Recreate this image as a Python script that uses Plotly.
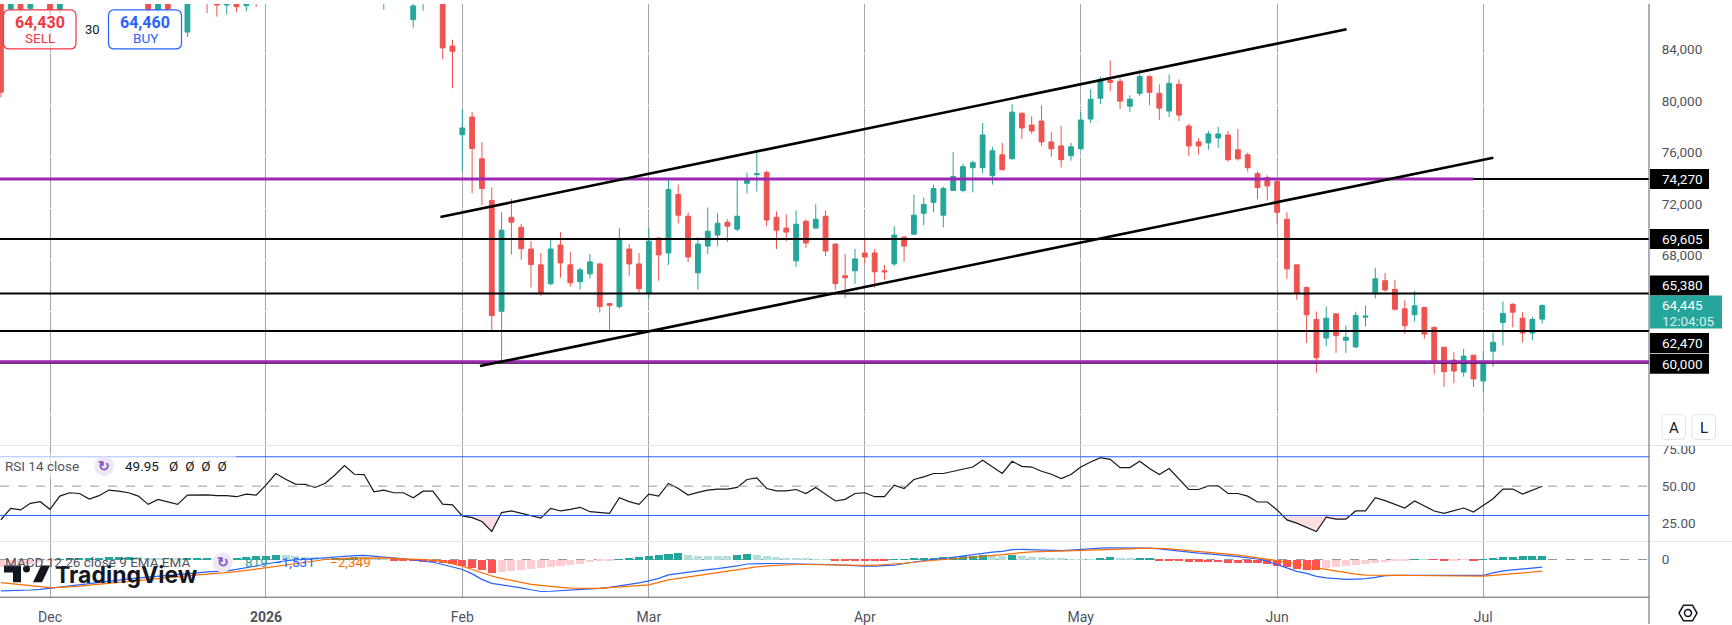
import math
import plotly.graph_objects as go
from plotly.subplots import make_subplots

W, H = 1732, 625
FIRST_BAR = -5          # bar index of left-most candle (bar 0 = 1 Dec 2025, trading days only)

# ---------------- price data (one value per trading day) ----------------
opens = [
    89000, 87450, 90200, 87500, 89800, 91500, 87400, 89500, 91200, 92400,
    91800, 93500, 92000, 90500, 92200, 90000, 87400, 88800, 88000, 85660,
    88300, 89000, 88800, 87760, 88400, 87710, 88300, 88000, 90000, 93000,
    92200, 91500, 91400, 91000, 92300, 95000, 97500, 95800, 95400, 90500,
    91200, 90700, 86630, 88000, 89500, 89000, 84580, 77700, 79070, 75830,
    72600, 64000, 71290, 70520, 68830, 67600, 66140, 69140, 67600, 66290,
    66900, 67670, 64600, 64360, 68830, 67670, 65370, 69680, 68520, 73060,
    71370, 66980, 69060, 69910, 70910, 70370, 73930, 74600, 74760, 71290,
    70450, 67910, 70980, 70450, 71370, 69210, 66750, 67140, 68520, 68520,
    67140, 67670, 69750, 69980, 71600, 72450, 71450, 73370, 73370, 75140,
    75140, 74520, 76140, 75830, 79370, 78450, 78760, 77140, 76830, 76060,
    76600, 78910, 80530, 81910, 81840, 79910, 80910, 82220, 80910, 79530,
    81610, 78370, 77140, 77060, 77450, 77680, 76530, 76140, 74680, 74370,
    74060, 71140, 67600, 65850, 63360, 61920, 63800, 61750, 61230, 63540,
    65440, 66370, 65700, 64190, 63730, 64290, 62750, 61210, 60210, 59280,
    60590, 58590, 60900, 63130, 64540, 63460, 62310, 63390]
highs = [
    89500, 90500, 90800, 90200, 92000, 92000, 90000, 91800, 93000, 93200,
    94000, 94200, 92500, 92600, 92500, 90500, 89200, 89300, 89200, 89000,
    89500, 89400, 89100, 88900, 88700, 88600, 88700, 90500, 93500, 93800,
    92800, 92200, 92000, 92800, 95500, 97800, 97900, 96500, 95800, 91800,
    91600, 91300, 88500, 90000, 90200, 89200, 85070, 79680, 79450, 77140,
    73600, 71680, 72730, 70780, 69440, 68520, 69540, 70140, 68600, 67370,
    68440, 67750, 64600, 70450, 69210, 68520, 70450, 69750, 74220, 73830,
    71680, 69750, 72060, 71600, 71140, 74220, 74760, 76300, 74910, 71750,
    71520, 71830, 71140, 72290, 71830, 69290, 68440, 68830, 69520, 68830,
    67600, 70600, 69850, 73060, 72830, 73830, 73680, 76370, 75450, 75680,
    78600, 76760, 77060, 80070, 79400, 79140, 79990, 77910, 78370, 77060,
    79450, 81220, 82220, 83450, 82070, 80760, 82760, 82300, 81610, 82380,
    81990, 78530, 77450, 77990, 78300, 77990, 78140, 76300, 74830, 74550,
    74290, 71680, 67620, 65900, 63980, 64360, 63830, 62900, 63960, 64440,
    67370, 66960, 66440, 64850, 65570, 64340, 62800, 61240, 60820, 61080,
    60620, 60900, 62360, 64750, 64620, 63930, 63590, 64540]
lows = [
    80600, 87300, 87200, 87300, 89000, 87000, 87100, 89000, 90500, 91000,
    91200, 91500, 90000, 90100, 89500, 87200, 87200, 87250, 87900, 85280,
    88000, 87120, 86860, 87020, 87200, 87280, 87630, 87900, 89800, 91800,
    91000, 90800, 90500, 90600, 92000, 94600, 95300, 95000, 90300, 87400,
    89800, 89600, 85990, 87320, 88300, 83550, 81300, 74830, 73160, 72240,
    62540, 60130, 68390, 68000, 65850, 65190, 66000, 66600, 65900, 65670,
    66540, 63900, 62540, 64210, 66750, 65440, 64980, 66370, 67600, 70830,
    67830, 65670, 68440, 69060, 69370, 70210, 73140, 73290, 70600, 68830,
    69440, 67440, 68910, 70370, 68290, 65670, 65060, 66140, 67750, 65830,
    66440, 67520, 67830, 69950, 70680, 71680, 70520, 73330, 73220, 73220,
    74680, 73830, 74910, 75780, 77370, 77760, 76830, 75990, 75140, 75680,
    76560, 78600, 80070, 81070, 79680, 79450, 80680, 79990, 78840, 79070,
    78760, 76060, 76140, 76530, 76680, 75600, 75680, 74830, 72680, 72600,
    70750, 66520, 64900, 61540, 59230, 61290, 60770, 60770, 61150, 62830,
    65000, 65520, 64030, 62260, 63210, 61880, 59150, 58130, 58410, 58920,
    58130, 57770, 59690, 61360, 62750, 61590, 61750, 63060]
closes = [
    81000, 90000, 87450, 89800, 91500, 87400, 89500, 91200, 92400, 91800,
    93500, 92000, 90500, 92200, 90000, 87400, 88800, 87450, 88500, 88300,
    89000, 88200, 87760, 88400, 87630, 88300, 88000, 90000, 93000, 92200,
    91500, 91400, 91000, 92300, 95000, 97500, 95800, 95700, 90800, 91200,
    90700, 90600, 87690, 89500, 89600, 84430, 84170, 78220, 76630, 73520,
    63670, 70290, 70910, 68850, 67620, 65440, 68830, 67750, 66210, 67210,
    67830, 64360, 64460, 69600, 67670, 65750, 69440, 68370, 73450, 71450,
    68210, 69210, 70210, 70830, 70600, 71370, 74240, 74680, 71080, 70290,
    70140, 70750, 69290, 71140, 68670, 66140, 66600, 68060, 68210, 67060,
    67060, 69910, 69060, 71450, 72290, 73520, 73520, 74450, 75220, 75530,
    77680, 76450, 74990, 79450, 78220, 77990, 77140, 76600, 75760, 76760,
    78840, 80450, 81990, 81760, 80300, 80450, 82220, 80990, 79760, 81680,
    79220, 76830, 76830, 77760, 77760, 75760, 75830, 75140, 73600, 73720,
    71680, 67290, 65390, 63730, 60390, 63460, 62110, 61980, 63670, 63620,
    66520, 65650, 64160, 62880, 64420, 62230, 60080, 59310, 59360, 60520,
    58750, 59880, 61590, 63830, 63930, 62310, 63360, 64445]

# ---------------- indicator data ----------------
rsi_vals = [
    27, 34.9, 33.8, 38.3, 39.4, 34.2, 43.2, 45.5, 45, 41.2,
    43.5, 47.3, 46.6, 45.5, 43.2, 37.6, 41, 39.2, 37.6, 43.9,
    44.1, 44, 43.5, 43.5, 42.8, 44.6, 43.9, 50.7, 58.6, 54.7,
    51.4, 51.2, 49.1, 51.8, 57.4, 64, 58.1, 57.9, 46.2, 47.3,
    45.5, 45.5, 42.1, 46.6, 46.6, 37.8, 37.2, 29.7, 28.6, 25.9,
    19.1, 32, 33.1, 31.5, 30, 28.2, 34.9, 33.1, 34.2, 35.6,
    32.6, 31.8, 31.5, 42.1, 39.5, 37.6, 44.6, 43.2, 51.8, 48.4,
    43.9, 45.7, 47.3, 48, 48, 49.1, 54.5, 55.6, 48.4, 46.8,
    46.8, 47.7, 45, 49.1, 44.4, 39.9, 41, 45, 45.5, 42.8,
    42.8, 50.7, 48.4, 54.5, 56.3, 58.6, 58.6, 60.1, 62, 63,
    67.6, 63, 58.6, 66.9, 63.5, 63, 60.1, 58.1, 55.2, 57.9,
    63, 66.4, 69.4, 68.2, 62.6, 62.6, 66.9, 62, 57.9, 62,
    54.5, 47.7, 47.7, 50.2, 50.2, 45, 45, 43.2, 39.2, 39.2,
    33.8, 27, 24.8, 22.1, 19.1, 28.8, 27.5, 27.5, 33.1, 33.1,
    42.1, 40.1, 37.6, 35.1, 39.9, 36.7, 33.1, 31.5, 33.1, 35.1,
    32.4, 37, 41.4, 48, 48, 44.6, 47.3, 49.95]
macd_vals = [
    -6330, -6300, -6250, -6150, -6000, -5800, -5600, -5350, -5100, -4850,
    -4600, -4350, -4100, -3900, -3700, -3550, -3400, -3250, -3100, -2900,
    -2700, -2500, -2400, -2300, -2000, -1700, -1300, -900, -500, -250,
    -100, 50, 200, 330, 500, 700, 800, 820, 700, 530,
    350, 150, -100, -350, -550, -1000, -1500, -2000, -2900, -4000,
    -4800, -5100, -5330, -5700, -6100, -6450, -6400, -6300, -6150, -6050,
    -5950, -5800, -5600, -5350, -5050, -4700, -4300, -3800, -3100, -2800,
    -2500, -2250, -2050, -1850, -1650, -1300, -900, -800, -800, -800,
    -800, -850, -900, -950, -1000, -1100, -1200, -1300, -1330, -1330,
    -1300, -1150, -800, -500, -200, 50, 200, 450, 700, 1000,
    1330, 1500, 1650, 2000, 2050, 2000, 1900, 1850, 1800, 1900,
    2050, 2250, 2300, 2330, 2330, 2300, 2300, 2300, 2150, 1900,
    1700, 1500, 1300, 1150, 1050, 800, 600, 350, 100, -350,
    -1000, -1800, -2400, -2800, -3400, -3700, -3900, -4000, -3950, -3870,
    -3600, -3250, -3200, -3200, -3200, -3200, -3250, -3300, -3330, -3330,
    -3300, -3200, -2700, -2300, -2100, -1870, -1700, -1531]
signal_vals = [
    -4670, -4900, -5100, -5300, -5500, -5670, -5600, -5500, -5350, -5150,
    -4950, -4750, -4550, -4350, -4150, -3950, -3750, -3550, -3400, -3250,
    -3100, -2950, -2800, -2670, -2450, -2200, -1950, -1700, -1400, -1150,
    -900, -600, -300, 0, 150, 250, 300, 330, 340, 330,
    250, 150, 50, -50, -130, -400, -800, -1330, -2000, -2700,
    -3330, -3800, -4200, -4600, -5000, -5200, -5450, -5600, -5750, -5800,
    -5800, -5800, -5650, -5500, -5350, -5200, -5100, -4600, -4100, -3800,
    -3500, -3200, -2900, -2600, -2300, -2000, -1700, -1500, -1300, -1150,
    -1050, -1000, -1000, -1050, -1100, -1150, -1200, -1200, -1200, -1150,
    -1050, -950, -750, -550, -330, -150, 0, 150, 300, 480,
    670, 850, 1000, 1200, 1400, 1550, 1600, 1650, 1700, 1750,
    1800, 1800, 1850, 1950, 2050, 2150, 2250, 2270, 2250, 2150,
    2000, 1850, 1650, 1450, 1250, 1100, 900, 650, 400, 150,
    -200, -550, -870, -1250, -1700, -2050, -2330, -2650, -2950, -3150,
    -3200, -3200, -3200, -3200, -3220, -3250, -3280, -3300, -3330, -3330,
    -3330, -3330, -3200, -3000, -2850, -2670, -2500, -2349]
hist_vals = [
    -1500, -1300, -1100, -800, -500, -200, 100, 250, 350, 400,
    450, 500, 550, 550, 500, 450, 400, 350, 300, 350,
    400, 450, 400, 370, 450, 550, 700, 850, 950, 900,
    800, 650, 500, 330, 350, 450, 500, 490, 360, 200,
    -50, -150, -250, -350, -450, -700, -900, -1200, -1600, -2100,
    -2600, -2450, -2250, -2000, -1800, -1600, -1400, -1200, -1000, -800,
    -500, -250, -80, 150, 250, 500, 800, 900, 1200, 1400,
    900, 850, 800, 750, 700, 950, 1150, 900, 700, 500,
    350, 250, 200, 150, 50, -50, -80, -100, -120, -140,
    -150, 50, 150, 250, 350, 450, 550, 650, 750, 850,
    950, 900, 850, 950, 800, 650, 500, 350, 200, 150,
    100, 80, 400, 500, 350, 200, 250, 300, -150, -250,
    -300, -350, -400, -450, -500, -550, -600, -650, -700, -900,
    -1200, -1500, -1800, -2000, -2100, -1700, -1500, -1300, -1100, -900,
    -700, -500, -300, -150, 50, 30, -30, -60, -40, -20,
    -50, 150, 350, 550, 650, 700, 750, 819]

# ---------------- axis labels / drawings ----------------
month_bars = [0, 22, 42, 61, 83, 105, 125, 146]
month_labels = ["Dec", "<b>2026</b>", "Feb", "Mar", "Apr", "May", "Jun", "Jul"]
price_ticks = [56000, 60000, 64000, 68000, 72000, 76000, 80000, 84000, 88000]
price_tick_text = ["", "", "", "68,000", "72,000", "76,000", "80,000", "84,000", ""]
level_prices = [74270, 69605, 65380, 62470, 60000]
level_labels = ["74,270", "69,605", "65,380", "62,470", "60,000"]
level_tag_shift = [0, 0, 8, -12, -1]
purple_upper_price, purple_upper_end_bar = 74270, 145
purple_lower_price = 60090
channel_upper_x, channel_upper_y = [39.77, 132.07], [71315, 85885]
channel_lower_x, channel_lower_y = [43.80, 147.02], [59746, 75910]
last_price, last_price_text, countdown_text = 64445, "64,445", "12:04:05"

X_RANGE = [-5.093, 162.88]
PRICE_RANGE = [53588, 87840]
RSI_RANGE = [12.2, 77.7]
MACD_RANGE = [-7600, 3600]

UP, DOWN = "#26a69a", "#ef5350"
TXT = "#50535e"
FONT = "Roboto, Open Sans, sans-serif"

xs = list(range(FIRST_BAR, FIRST_BAR + len(closes)))


def px_x(x):
    return x / W


def px_y(y):
    return 1 - y / H


PLOT_R = px_x(1649)

fig = make_subplots(rows=3, cols=1, shared_xaxes=True, vertical_spacing=0)

fig.add_trace(go.Candlestick(
    x=xs, open=opens, high=highs, low=lows, close=closes,
    increasing=dict(line=dict(color=UP, width=1), fillcolor=UP),
    decreasing=dict(line=dict(color=DOWN, width=1), fillcolor=DOWN),
    whiskerwidth=0, showlegend=False, hoverinfo="skip"), row=1, col=1)

# RSI oversold fill
fx, fy = [], []
for i, (x, v) in enumerate(zip(xs, rsi_vals)):
    if i > 0:
        pv = rsi_vals[i - 1]
        if (pv - 30) * (v - 30) < 0:
            t = (30 - pv) / (v - pv)
            fx.append(xs[i - 1] + t)
            fy.append(30)
    fx.append(x)
    fy.append(min(v, 30))
fig.add_trace(go.Scatter(x=fx, y=[30] * len(fx), mode="lines", line=dict(width=0),
                         showlegend=False, hoverinfo="skip"), row=2, col=1)
fig.add_trace(go.Scatter(x=fx, y=fy, mode="lines", line=dict(width=0), fill="tonexty",
                         fillcolor="rgba(242,54,69,0.16)", showlegend=False,
                         hoverinfo="skip"), row=2, col=1)
fig.add_trace(go.Scatter(x=xs, y=rsi_vals, mode="lines", line=dict(color="#131722", width=1.2),
                         showlegend=False, hoverinfo="skip"), row=2, col=1)

# MACD histogram colours
hcols = []
for i, v in enumerate(hist_vals):
    prev = hist_vals[i - 1] if i > 0 else v
    if v >= 0:
        hcols.append("#26a69a" if v >= prev else "#b2dfdb")
    else:
        hcols.append("#ff5252" if v < prev else "#ffcdd2")
fig.add_trace(go.Bar(x=xs, y=hist_vals, marker=dict(color=hcols, line=dict(width=0)), width=0.82,
                     showlegend=False, hoverinfo="skip"), row=3, col=1)
fig.add_trace(go.Scatter(x=xs, y=macd_vals, mode="lines", line=dict(color="#2962ff", width=1.2),
                         showlegend=False, hoverinfo="skip"), row=3, col=1)
fig.add_trace(go.Scatter(x=xs, y=signal_vals, mode="lines", line=dict(color="#ff6d00", width=1.2),
                         showlegend=False, hoverinfo="skip"), row=3, col=1)

grid = "#a3a6af"
for ax in ("xaxis", "xaxis2", "xaxis3"):
    fig.layout[ax].update(range=X_RANGE, domain=[0, PLOT_R], showgrid=True, gridcolor=grid,
                          gridwidth=1, zeroline=False, tickvals=month_bars, ticktext=month_labels,
                          showticklabels=False, ticks="", showline=False,
                          rangeslider=dict(visible=False))
fig.layout.xaxis3.update(showticklabels=True, ticks="outside", ticklen=7,
                         tickcolor="rgba(0,0,0,0)", tickfont=dict(size=14, color=TXT, family=FONT))

yt = dict(side="right", zeroline=False, ticks="outside", ticklen=9, tickcolor="rgba(0,0,0,0)",
          tickfont=dict(size=13.5, color=TXT, family=FONT), showline=False)
fig.layout.yaxis.update(domain=[px_y(445), 1], range=PRICE_RANGE, tickvals=price_ticks,
                        ticktext=price_tick_text, showgrid=True, gridcolor="white", gridwidth=1,
                        ticklabelshift=-4, **yt)
fig.layout.yaxis2.update(domain=[px_y(542), px_y(445)], range=RSI_RANGE, tickvals=[25, 50, 75],
                         ticktext=["25.00", "50.00", "75.00"], showgrid=False, **yt)
fig.layout.yaxis3.update(domain=[px_y(598), px_y(542)], range=MACD_RANGE, tickvals=[0],
                         ticktext=["0"], showgrid=False, **yt)

shapes = []


def line_shape(x0, y0, x1, y1, xref, yref, color, width, dash=None, layer="above"):
    d = dict(type="line", x0=x0, y0=y0, x1=x1, y1=y1, xref=xref, yref=yref, layer=layer,
             line=dict(color=color, width=width))
    if dash:
        d["line"]["dash"] = dash
    shapes.append(d)


def rrect(x0, y0, x1, y1, r):
    def P(x, y):
        return f"{px_x(x):.6f},{px_y(y):.6f}"
    return (f"M {P(x0 + r, y0)} L {P(x1 - r, y0)} Q {P(x1, y0)} {P(x1, y0 + r)} "
            f"L {P(x1, y1 - r)} Q {P(x1, y1)} {P(x1 - r, y1)} L {P(x0 + r, y1)} "
            f"Q {P(x0, y1)} {P(x0, y1 - r)} L {P(x0, y0 + r)} Q {P(x0, y0)} {P(x0 + r, y0)} Z")


# horizontal levels
for p in level_prices:
    line_shape(0, p, PLOT_R, p, "paper", "y", "#000000", 2)
line_shape(X_RANGE[0], purple_upper_price, purple_upper_end_bar, purple_upper_price, "x", "y",
           "#9c27b0", 3)
line_shape(0, purple_lower_price, PLOT_R, purple_lower_price, "paper", "y", "#9c27b0", 3)
# channel
line_shape(channel_upper_x[0], channel_upper_y[0], channel_upper_x[1], channel_upper_y[1],
           "x", "y", "#000000", 2.6)
line_shape(channel_lower_x[0], channel_lower_y[0], channel_lower_x[1], channel_lower_y[1],
           "x", "y", "#000000", 2.6)
# RSI bands
line_shape(0, 70, PLOT_R, 70, "paper", "y2", "#2962ff", 1)
line_shape(0, 30, PLOT_R, 30, "paper", "y2", "#2962ff", 1)
line_shape(0, 50, PLOT_R, 50, "paper", "y2", "#9598a1", 1, dash="dash")
line_shape(0, 0, PLOT_R, 0, "paper", "y3", "#9598a1", 1, dash="dash", layer="below")
# pane separators and axes
for yy in (445, 542):
    line_shape(0, px_y(yy), 1, px_y(yy), "paper", "paper", "#e0e3eb", 1)
line_shape(0, px_y(598), PLOT_R, px_y(598), "paper", "paper", "#5d606b", 1)
line_shape(PLOT_R, 0, PLOT_R, 1, "paper", "paper", "#5d606b", 1)

# RSI legend backdrop
shapes.append(dict(type="rect", xref="paper", yref="paper", x0=0, x1=px_x(236), y0=px_y(478),
                   y1=px_y(454), fillcolor="rgba(255,255,255,0.6)", line=dict(width=0),
                   layer="above"))
# SELL / BUY boxes
shapes.append(dict(type="path", xref="paper", yref="paper", path=rrect(3.5, 6, 76, 45.3, 6),
                   fillcolor="rgba(255,255,255,0.6)", line=dict(color="#f23645", width=1.2),
                   layer="above"))
shapes.append(dict(type="path", xref="paper", yref="paper", path=rrect(108.5, 6, 181.5, 45.3, 6),
                   fillcolor="rgba(255,255,255,0.6)", line=dict(color="#2962ff", width=1.2),
                   layer="above"))
# price tags
for p, s in zip(level_prices, level_tag_shift):
    shapes.append(dict(type="rect", xref="paper", yref="y", ysizemode="pixel", yanchor=p,
                       x0=px_x(1650), x1=px_x(1709), y0=-10 + s, y1=10 + s,
                       fillcolor="#000000", line=dict(width=0), layer="above"))
shapes.append(dict(type="rect", xref="paper", yref="y", ysizemode="pixel", yanchor=last_price,
                   x0=px_x(1650), x1=px_x(1722), y0=-23, y1=10,
                   fillcolor="#26a69a", line=dict(width=0), layer="above"))
# A / L buttons
for bx in (1662, 1692):
    shapes.append(dict(type="path", xref="paper", yref="paper", path=rrect(bx, 414, bx + 23.5, 439, 4),
                       fillcolor="white", line=dict(color="#e0e3eb", width=1), layer="above"))
# legend icons
for cx, cy in ((104.3, 466), (222.6, 563)):
    shapes.append(dict(type="circle", xref="paper", yref="paper", x0=px_x(cx - 10), x1=px_x(cx + 10),
                       y0=px_y(cy + 10), y1=px_y(cy - 10), fillcolor="#ede7f6",
                       line=dict(width=0), layer="above"))
# gear icon (hexagon)
cx, cy, r = 1688, 614, 9
pts = [(cx + r * math.cos(math.radians(a)), cy + r * math.sin(math.radians(a))) for a in range(0, 360, 60)]
hexpath = "M " + " L ".join(f"{px_x(a):.6f},{px_y(b):.6f}" for a, b in pts) + " Z"
shapes.append(dict(type="path", xref="paper", yref="paper", path=hexpath, line=dict(color="#131722", width=1.5),
                   layer="above"))
shapes.append(dict(type="circle", xref="paper", yref="paper", x0=px_x(cx - 3.5), x1=px_x(cx + 3.5),
                   y0=px_y(cy + 3.5), y1=px_y(cy - 3.5), line=dict(color="#131722", width=1.5),
                   layer="above"))
# TradingView logo glyph
logo = "#131722"
shapes.append(dict(type="path", xref="paper", yref="paper", layer="above", fillcolor=logo, line=dict(width=0),
                   path=f"M {px_x(4)},{px_y(566)} L {px_x(21)},{px_y(566)} L {px_x(21)},{px_y(583)} "
                        f"L {px_x(13)},{px_y(583)} L {px_x(13)},{px_y(573)} L {px_x(4)},{px_y(573)} Z"))
shapes.append(dict(type="circle", xref="paper", yref="paper", layer="above", fillcolor=logo, line=dict(width=0),
                   x0=px_x(23), x1=px_x(30), y0=px_y(573), y1=px_y(566)))
shapes.append(dict(type="path", xref="paper", yref="paper", layer="above", fillcolor=logo, line=dict(width=0),
                   path=f"M {px_x(33)},{px_y(583)} L {px_x(41)},{px_y(566)} L {px_x(50)},{px_y(566)} "
                        f"L {px_x(42)},{px_y(583)} Z"))

annotations = []


def ann(text, x, y, size=13.5, color=TXT, xanchor="left", xref="paper", yref="paper", yshift=0):
    annotations.append(dict(text=text, x=x, y=y, xref=xref, yref=yref, xanchor=xanchor,
                            yanchor="middle", showarrow=False, yshift=yshift,
                            font=dict(size=size, color=color, family=FONT)))


# watermark first so the legend text sits on top of it
annotations.append(dict(text="<b>TradingView</b>", x=px_x(53), y=px_y(576), xref="paper", yref="paper",
                        xanchor="left", yanchor="middle", showarrow=False,
                        font=dict(size=23, color="#131722", family="Inter, Roboto, sans-serif")))

ann("<b>64,430</b>", px_x(39.8), px_y(18.5), 16, "#f23645", "center")
ann("SELL", px_x(39.8), px_y(34.5), 13.5, "#f23645", "center")
ann("<b>64,460</b>", px_x(145), px_y(18.5), 16, "#2962ff", "center")
ann("BUY", px_x(145), px_y(34.5), 13.5, "#2962ff", "center")
ann("30", px_x(92.3), px_y(26), 13, "#131722", "center")

for p, t, s in zip(level_prices, level_labels, level_tag_shift):
    ann(t, px_x(1660), p, 13.5, "#ffffff", yref="y", yshift=s)
ann(last_price_text, px_x(1660), last_price, 13.5, "#ffffff", yref="y", yshift=1)
ann(countdown_text, px_x(1660), last_price, 13.5, "rgba(255,255,255,0.85)", yref="y", yshift=-15)

ann("RSI 14 close", px_x(3), px_y(466), 13.5, TXT)
ann("<b>↻</b>", px_x(104.3), px_y(466), 14, "#7e57c2", "center")
ann("49.95", px_x(122.5), px_y(466), 13.5, "#131722")
ann("Ø\u2002Ø\u2002Ø\u2002Ø", px_x(167), px_y(466), 13.5, "#131722")

ann("MACD 12 26 close 9 EMA EMA", px_x(3), px_y(563), 13.5, TXT)
ann("<b>↻</b>", px_x(222.6), px_y(563), 14, "#7e57c2", "center")
ann("819", px_x(243), px_y(563), 13.5, "#26a69a")
ann("−1,531", px_x(272), px_y(563), 13.5, "#2962ff")
ann("−2,349", px_x(328), px_y(563), 13.5, "#ff6d00")

ann("A", px_x(1674), px_y(427), 15, "#131722", "center")
ann("L", px_x(1703.5), px_y(427), 15, "#131722", "center")

fig.update_layout(
    width=W, height=H, margin=dict(l=0, r=0, t=0, b=0),
    paper_bgcolor="white", plot_bgcolor="white", showlegend=False,
    shapes=shapes, annotations=annotations, bargap=0,
    font=dict(family=FONT, color=TXT),
)

fig.write_html("out.html")
